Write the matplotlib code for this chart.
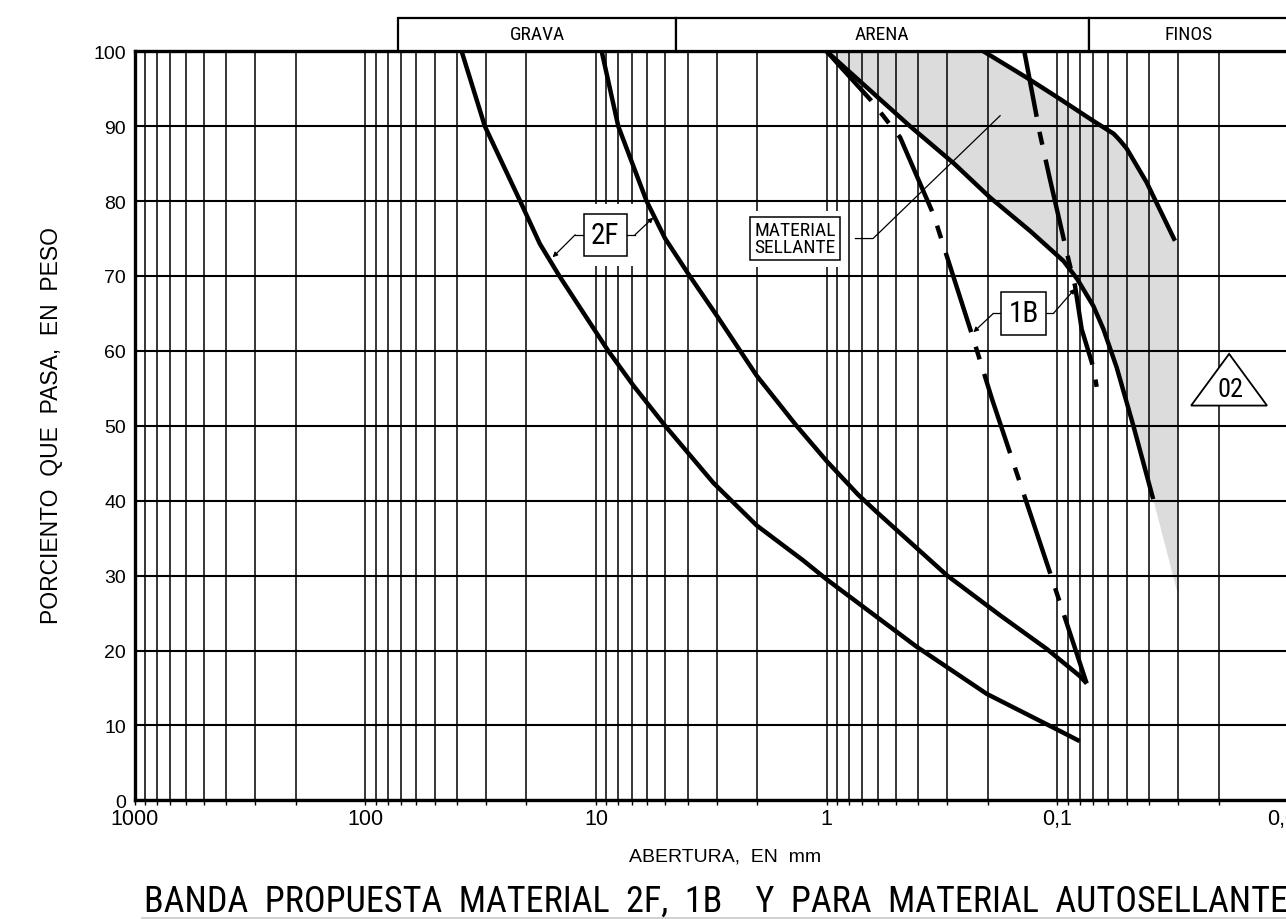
import matplotlib
matplotlib.use('Agg')
import matplotlib.pyplot as plt
from matplotlib.patches import Rectangle, Polygon
from matplotlib.ticker import LogLocator, FixedLocator, FixedFormatter, NullFormatter
from matplotlib.lines import Line2D
from matplotlib import font_manager

plt.rcParams['lines.scale_dashes'] = False

def pick_font(names):
    for n in names:
        try:
            font_manager.findfont(font_manager.FontProperties(family=n), fallback_to_default=False)
            return n
        except Exception:
            pass
    return 'DejaVu Sans'

NARROW = pick_font(['Liberation Sans Narrow', 'Roboto Condensed', 'Liberation Sans'])
REG = pick_font(['Liberation Sans', 'DejaVu Sans'])

# ---------------- data ----------------
# 2F band, coarse limit
f2_coarse_mm = [38.2, 30.3, 21.3, 17.5, 14.4, 8.84, 6.89, 5.01, 3.10, 2.01, 1.26, 1.0, 0.607, 0.407, 0.202, 0.104, 0.080]
f2_coarse_pct = [100, 90, 80, 74.3, 70, 60, 55.4, 50, 42.4, 36.7, 32.0, 29.5, 24.5, 20.5, 14.2, 9.7, 7.9]
# 2F band, fine limit
f2_fine_mm = [9.44, 8.0, 6.03, 5.01, 3.92, 2.99, 2.01, 1.35, 1.0, 0.73, 0.607, 0.30, 0.177, 0.111, 0.080, 0.0746]
f2_fine_pct = [100, 90, 80, 75, 70, 64.7, 56.7, 50, 45.3, 40.8, 38.5, 30, 24.7, 20.2, 16.6, 15.6]
# 1B band (dash-dot)
b1_coarse_mm = [1.0, 0.64, 0.48, 0.344, 0.235, 0.192, 0.158, 0.106, 0.0746]
b1_coarse_pct = [100, 93.4, 88.5, 78.2, 62.3, 53.6, 45.8, 29.8, 15.6]
b1_fine_mm = [0.139, 0.119, 0.1076, 0.0896, 0.0838, 0.0784, 0.0698, 0.0675]
b1_fine_pct = [100, 89.0, 82.9, 72.3, 68.7, 62.9, 57.8, 55.2]
# material sellante band
ms_coarse_mm = [1.0, 0.435, 0.28, 0.196, 0.131, 0.094, 0.082, 0.0698, 0.0631, 0.0553, 0.0468, 0.0384]
ms_coarse_pct = [100, 90, 85, 80.5, 76, 72, 69.6, 66, 62.9, 57.8, 50, 40.2]
ms_fine_mm = [0.209, 0.136, 0.097, 0.0698, 0.057, 0.0535, 0.050, 0.041, 0.0309]
ms_fine_pct = [100, 96.5, 93.6, 90.7, 89.0, 88.1, 87.0, 82.5, 74.7]
ms_shade_edge_mm = [0.0299, 0.0299]
ms_shade_edge_pct = [74.7, 27.3]

# soil classes header
class_names = ['GRAVA', 'ARENA', 'FINOS']
class_bounds_mm = [72, 4.5, 0.073, 0.01]

x_tick_vals = [1000, 100, 10, 1, 0.1, 0.01]
x_tick_labels = ['1000', '100', '10', '1', '0,1', '0,01']
y_tick_vals = list(range(0, 101, 10))

# ---------------- figure ----------------
W, H = 1286, 920
fig = plt.figure(figsize=(W / 100, H / 100), dpi=100)
ax_l, ax_r, ax_t, ax_b = 134.5, 1288, 52.3, 801.3
ax = fig.add_axes([ax_l / W, 1 - ax_b / H, (ax_r - ax_l) / W, (ax_b - ax_t) / H])
ax.set_xscale('log')
ax.set_xlim(1000, 0.01)
ax.set_ylim(0, 100)
ax.set_axisbelow(True)

ax.xaxis.set_major_locator(FixedLocator(x_tick_vals))
ax.xaxis.set_major_formatter(FixedFormatter(x_tick_labels))
ax.xaxis.set_minor_locator(LogLocator(base=10, subs=[2, 3, 4, 5, 6, 7, 8, 9], numticks=50))
ax.xaxis.set_minor_formatter(NullFormatter())
ax.set_yticks(y_tick_vals)
ax.grid(which='both', axis='x', color='black', lw=1.1)
ax.grid(which='major', axis='y', color='black', lw=1.5)
ax.tick_params(axis='x', which='both', direction='out', length=3.5, width=1.0, pad=2,
               labelsize=15.5, colors='black')
ax.tick_params(axis='y', which='both', length=0, pad=6, labelsize=14)
for lab in ax.get_xticklabels() + ax.get_yticklabels():
    lab.set_fontfamily(REG)
for s in ['left', 'bottom', 'top']:
    ax.spines[s].set_linewidth(2.4)
ax.spines['right'].set_linewidth(2.0)

# shaded band (material sellante)
shade_x = ms_fine_mm + ms_shade_edge_mm + ms_coarse_mm[::-1]
shade_y = ms_fine_pct + ms_shade_edge_pct + ms_coarse_pct[::-1]
ax.add_patch(Polygon(list(zip(shade_x, shade_y)), closed=True, facecolor='#dcdcdc',
                     edgecolor='none', zorder=0.2))

LW = 3.2
kw = dict(color='black', lw=LW, zorder=3, solid_capstyle='butt', solid_joinstyle='round')
ax.plot(f2_coarse_mm, f2_coarse_pct, **kw)
ax.plot(f2_fine_mm, f2_fine_pct, **kw)
ax.plot(ms_coarse_mm, ms_coarse_pct, **kw)
ax.plot(ms_fine_mm, ms_fine_pct, **kw)
dashdot = (12, (60, 11, 9.5, 11))
ax.plot(b1_coarse_mm, b1_coarse_pct, color='black', lw=LW, ls=dashdot, zorder=3, dash_capstyle='butt')
ax.plot(b1_fine_mm, b1_fine_pct, color='black', lw=LW, ls=dashdot, zorder=3, dash_capstyle='butt')

# header
for name, x0, x1 in zip(class_names, class_bounds_mm[:-1], class_bounds_mm[1:]):
    ax.add_patch(Rectangle((x0, 100), x1 - x0, 4.4, facecolor='white', edgecolor='black',
                           lw=1.6, clip_on=False, zorder=5))
    xm = (x0 * x1) ** 0.5
    ax.text(xm, 102.3, name, ha='center', va='center', fontsize=14, family=NARROW,
            clip_on=False, zorder=6)


def boxed(x, y, text, size, linespacing=1.15, pad=0.22):
    ax.text(x, y, text, ha='center', va='center', fontsize=size, family=NARROW,
            linespacing=linespacing, color='white', zorder=4,
            bbox=dict(boxstyle='square,pad=%.2f' % (pad + 0.33), fc='white', ec='none'))
    ax.text(x, y, text, ha='center', va='center', fontsize=size, family=NARROW,
            linespacing=linespacing, zorder=6,
            bbox=dict(boxstyle='square,pad=%.2f' % pad, fc='white', ec='black', lw=1.1))


def leader(p0, p1, tip):
    ax.plot([p0[0], p1[0]], [p0[1], p1[1]], color='black', lw=0.9, zorder=5)
    ax.annotate('', xy=tip, xytext=p1,
                arrowprops=dict(arrowstyle='-|>', lw=0.9, color='black', mutation_scale=7,
                                shrinkA=0, shrinkB=0), zorder=5)


# 2F
boxed(9.11, 75.5, '2F', 21, pad=0.25)
leader((11.0, 75.5), (12.3, 75.5), (15.4, 72.5))
leader((7.5, 75.5), (6.77, 75.5), (5.64, 77.8))
# 1B
boxed(0.140, 65.0, '1B', 21, pad=0.25)
leader((0.17, 65.0), (0.1894, 65.0), (0.231, 62.5))
leader((0.115, 65.0), (0.104, 65.0), (0.0838, 68.3))
# MATERIAL SELLANTE
boxed(1.372, 75.0, 'MATERIAL\nSELLANTE', 14, linespacing=0.95, pad=0.2)
ax.plot([0.75, 0.629, 0.177], [75.0, 75.0, 91.4], color='black', lw=0.9, zorder=5)

# triangle 02
ax.add_patch(Polygon([(0.0263, 52.7), (0.01233, 52.7), (0.018, 59.6)], closed=True,
                     facecolor='white', edgecolor='black', lw=1.3, zorder=5))
ax.text(0.0178, 54.9, '02', ha='center', va='center', fontsize=19, family=NARROW, zorder=6)

# labels
fig.text(725 / W, 1 - 857 / H, 'ABERTURA,  EN  mm', ha='center', va='center',
         fontsize=14, family=REG)
fig.text(52 / W, 1 - 426 / H, 'PORCIENTO  QUE  PASA,  EN  PESO', ha='center', va='center',
         rotation=90, fontsize=16.5, family=REG)
fig.text((148 + 1283) / 2 / W, 1 - 902 / H,
         'BANDA  PROPUESTA  MATERIAL  2F,  1B    Y  PARA  MATERIAL  AUTOSELLANTE',
         ha='center', va='center', fontsize=26, family=NARROW)
fig.add_artist(Line2D([142 / W, 1.0], [1 - 918.5 / H, 1 - 918.5 / H], color='#c8c8c8', lw=1.2))

fig.savefig('out.png', dpi=100)
